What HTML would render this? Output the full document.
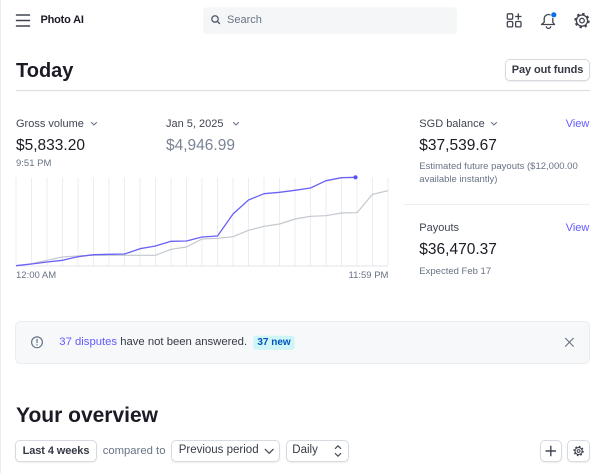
<!DOCTYPE html>
<html><head><meta charset="utf-8">
<style>
*{margin:0;padding:0;box-sizing:border-box}
html,body{width:600px;height:473px;background:#fff;overflow:hidden;font-family:"Liberation Sans",sans-serif;color:#414552}
.t{position:absolute;white-space:nowrap}
.btn{position:absolute;border:1px solid #d5dbe1;border-radius:5px;background:#fff;box-shadow:0 1px 1.5px rgba(0,0,0,0.07)}
</style></head><body>
<svg width="600" height="473" style="position:absolute;left:0;top:0" xmlns="http://www.w3.org/2000/svg">
  <line x1="0.5" y1="0" x2="0.5" y2="473" stroke="#ececec" stroke-width="1"/>
  <!-- hamburger -->
  <g stroke="#414552" stroke-width="1.5" stroke-linecap="round">
    <line x1="16.5" y1="15" x2="29.5" y2="15"/><line x1="16.5" y1="20.5" x2="29.5" y2="20.5"/><line x1="16.5" y1="26" x2="29.5" y2="26"/>
  </g>
  <!-- search box -->
  <rect x="203" y="7.3" width="254" height="26.7" rx="4" fill="#f5f6f8"/>
  <circle cx="215" cy="19" r="3.2" fill="none" stroke="#525a6b" stroke-width="1.3"/>
  <line x1="217.4" y1="21.4" x2="219.5" y2="23.5" stroke="#525a6b" stroke-width="1.4" stroke-linecap="round"/>
  <!-- grid icon -->
  <g fill="none" stroke="#414552" stroke-width="1.3">
    <rect x="507.3" y="13.8" width="5.4" height="5.4" rx="1.2"/>
    <rect x="507.3" y="21.5" width="5.4" height="5.4" rx="1.2"/>
    <rect x="515.6" y="21.5" width="5.4" height="5.4" rx="1.2"/>
    <line x1="518.3" y1="13.3" x2="518.3" y2="19.7"/><line x1="515.1" y1="16.5" x2="521.5" y2="16.5"/>
  </g>
  <!-- bell -->
  <g fill="none" stroke="#414552" stroke-width="1.3" stroke-linejoin="round">
    <path d="M541.5 24.5 H554.5 L552.8 22.2 V18.8 A4.3 4.3 0 0 0 544.2 18.8 V22.2 Z"/>
    <path d="M546.3 26.2 A2.2 2.2 0 0 0 550.7 26.2"/>
  </g>
  <circle cx="553.8" cy="14.8" r="3.4" fill="#fff"/>
  <circle cx="553.8" cy="14.8" r="2.6" fill="#0a6ee6"/>
  <!-- gear -->
  <g fill="none" stroke="#414552">
    <circle cx="582" cy="20.6" r="5.6" stroke-width="1.3"/>
    <circle cx="582" cy="20.6" r="6.6" stroke-width="2.2" stroke-dasharray="2.4 2.78"/>
    <circle cx="582" cy="20.6" r="2.3" stroke-width="1.3"/>
  </g>
  <!-- divider under Today -->
  <line x1="16" y1="90.5" x2="590" y2="90.5" stroke="#dde1e6" stroke-width="1.2"/>
  <!-- chevrons -->
  <g fill="none" stroke="#687385" stroke-width="1.1" stroke-linecap="round" stroke-linejoin="round">
    <polyline points="91.5,122.5 94,125 96.5,122.5"/>
    <polyline points="233.5,122.5 236,125 238.5,122.5"/>
    <polyline points="491.5,122.5 494,125 496.5,122.5"/>
  </g>
  <!-- chart grid -->
  <g stroke="#ebeef1" stroke-width="1">
    <line x1="16" y1="177.7" x2="16" y2="265.7"/><line x1="31.5" y1="177.7" x2="31.5" y2="265.7"/><line x1="47" y1="177.7" x2="47" y2="265.7"/><line x1="62.5" y1="177.7" x2="62.5" y2="265.7"/><line x1="78" y1="177.7" x2="78" y2="265.7"/><line x1="93.5" y1="177.7" x2="93.5" y2="265.7"/><line x1="109" y1="177.7" x2="109" y2="265.7"/><line x1="124.5" y1="177.7" x2="124.5" y2="265.7"/><line x1="140" y1="177.7" x2="140" y2="265.7"/><line x1="155.5" y1="177.7" x2="155.5" y2="265.7"/><line x1="171" y1="177.7" x2="171" y2="265.7"/><line x1="186.5" y1="177.7" x2="186.5" y2="265.7"/><line x1="202" y1="177.7" x2="202" y2="265.7"/><line x1="217.5" y1="177.7" x2="217.5" y2="265.7"/><line x1="233" y1="177.7" x2="233" y2="265.7"/><line x1="248.5" y1="177.7" x2="248.5" y2="265.7"/><line x1="264" y1="177.7" x2="264" y2="265.7"/><line x1="279.5" y1="177.7" x2="279.5" y2="265.7"/><line x1="295" y1="177.7" x2="295" y2="265.7"/><line x1="310.5" y1="177.7" x2="310.5" y2="265.7"/><line x1="326" y1="177.7" x2="326" y2="265.7"/><line x1="341.5" y1="177.7" x2="341.5" y2="265.7"/><line x1="357" y1="177.7" x2="357" y2="265.7"/><line x1="372.5" y1="177.7" x2="372.5" y2="265.7"/><line x1="388" y1="177.7" x2="388" y2="265.7"/>
  </g>
  <line x1="16" y1="266" x2="388" y2="266" stroke="#e3e6ea" stroke-width="1"/>
  <polyline fill="none" stroke="#c3c8cf" stroke-width="1.2" stroke-linejoin="round" points="16,265.7 31.5,263.7 47,260.3 62.5,257 78,256 93.5,255.3 109,255.3 124.5,255.3 140,255.3 155.5,255.3 171,249.3 186.5,247 202,239 217.5,238.3 233,236.7 248.5,230.3 264,226.3 279.5,224 295,219 310.5,216.3 326,215.7 341.5,213 357,212.7 372.5,194.3 388,190.7"/>
  <polyline fill="none" stroke="#6a61f6" stroke-width="1.3" stroke-linejoin="round" points="16,265.7 31.5,264 47,262 62.5,260.3 78,256.7 93.5,254.7 109,254.3 124.5,254 140,248.7 155.5,246 171,241.3 186.5,241 202,237 217.5,236 233,214 248.5,200 264,193.7 279.5,192.3 295,190.3 310.5,188 326,180.7 341.5,177.7 357,177.3"/>
  <circle cx="355.5" cy="177.3" r="2.1" fill="#5a50f5"/>
  <!-- right panel divider -->
  <line x1="403.5" y1="204.5" x2="589.5" y2="204.5" stroke="#ebeef1" stroke-width="1"/>
  <!-- alert -->
  <rect x="15.5" y="321.5" width="574" height="42" rx="5" fill="#f6f8fa" stroke="#ebeef1"/>
  <circle cx="37" cy="342.3" r="5.4" fill="none" stroke="#687385" stroke-width="1.2"/>
  <line x1="37" y1="339.3" x2="37" y2="342.6" stroke="#687385" stroke-width="1.2" stroke-linecap="round"/>
  <circle cx="37" cy="344.9" r="0.7" fill="#687385"/>
  <rect x="253.3" y="335.7" width="41.4" height="14" rx="3" fill="#cff5f6"/>
  <g stroke="#687385" stroke-width="1.1" stroke-linecap="round">
    <line x1="565.5" y1="338.3" x2="573.3" y2="346.3"/><line x1="573.3" y1="338.3" x2="565.5" y2="346.3"/>
  </g>
</svg>

<div class="t" style="left:40.5px;top:15px;font-size:11px;line-height:11px;font-weight:bold;color:#1a1b25;letter-spacing:-0.2px">Photo AI</div>
<div class="t" style="left:227px;top:15px;font-size:11px;line-height:11px;color:#687385">Search</div>

<div class="t" style="left:16px;top:60.8px;font-size:20px;line-height:20px;font-weight:bold;color:#1a1b25">Today</div>
<div class="btn" style="left:505px;top:59px;width:85px;height:22px"></div>
<div class="t" style="left:505px;top:64.5px;width:85px;text-align:center;font-size:11px;line-height:11px;font-weight:bold;color:#353a44;letter-spacing:-0.1px">Pay out funds</div>

<div class="t" style="left:16px;top:118.5px;font-size:11px;line-height:11px">Gross volume</div>
<div class="t" style="left:166px;top:118.5px;font-size:11px;line-height:11px">Jan 5, 2025</div>
<div class="t" style="left:16px;top:137.8px;font-size:15.5px;line-height:15.5px;color:#1a1b25">$5,833.20</div>
<div class="t" style="left:166px;top:137.8px;font-size:15.5px;line-height:15.5px;color:#7a8394">$4,946.99</div>
<div class="t" style="left:16px;top:158.5px;font-size:9.5px;line-height:9.5px;color:#687385">9:51 PM</div>
<div class="t" style="left:16px;top:271.2px;font-size:9.5px;line-height:9.5px;color:#687385">12:00 AM</div>
<div class="t" style="left:348.5px;top:271.2px;font-size:9.5px;line-height:9.5px;color:#687385">11:59 PM</div>

<div class="t" style="left:419.3px;top:118.5px;font-size:11px;line-height:11px">SGD balance</div>
<div class="t" style="left:565.7px;top:118.5px;font-size:11px;line-height:11px;color:#635bff">View</div>
<div class="t" style="left:419.3px;top:137.8px;font-size:15.5px;line-height:15.5px;color:#1a1b25">$37,539.67</div>
<div class="t" style="left:419.3px;top:162px;font-size:9.5px;line-height:9.5px;color:#687385">Estimated future payouts ($12,000.00</div>
<div class="t" style="left:419.3px;top:175.3px;font-size:9.5px;line-height:9.5px;color:#687385">available instantly)</div>
<div class="t" style="left:419.3px;top:222.8px;font-size:11px;line-height:11px">Payouts</div>
<div class="t" style="left:565.7px;top:222.8px;font-size:11px;line-height:11px;color:#635bff">View</div>
<div class="t" style="left:419.3px;top:242.3px;font-size:15.5px;line-height:15.5px;color:#1a1b25">$36,470.37</div>
<div class="t" style="left:419.3px;top:267px;font-size:9.5px;line-height:9.5px;color:#687385">Expected Feb 17</div>

<div class="t" style="left:59.3px;top:336.6px;font-size:11.3px;line-height:11.3px;color:#353a44"><span style="color:#635bff">37 disputes</span> have not been answered.</div>
<div class="t" style="left:253.3px;top:337.5px;width:41.4px;text-align:center;font-size:10px;line-height:10px;font-weight:bold;color:#0055bc">37 new</div>

<div class="t" style="left:16px;top:404.5px;font-size:21px;line-height:21px;font-weight:bold;color:#1a1b25">Your overview</div>

<div class="btn" style="left:15px;top:440px;width:82px;height:22px"></div>
<div class="t" style="left:15px;top:445.5px;width:82px;text-align:center;font-size:11px;line-height:11px;font-weight:bold;color:#353a44;letter-spacing:-0.1px">Last 4 weeks</div>
<div class="t" style="left:102.7px;top:445.5px;font-size:11.3px;line-height:11.3px;color:#687385">compared to</div>
<div class="btn" style="left:171.3px;top:440px;width:109px;height:22px"></div>
<div class="t" style="left:178.7px;top:445.3px;font-size:11.5px;line-height:11.5px;color:#353a44">Previous period</div>
<div class="btn" style="left:285.7px;top:440px;width:63.5px;height:22px"></div>
<div class="t" style="left:292.3px;top:445.3px;font-size:11.5px;line-height:11.5px;color:#353a44">Daily</div>
<div class="btn" style="left:540px;top:440px;width:21.7px;height:22px"></div>
<div class="btn" style="left:567.3px;top:440px;width:22.7px;height:22px"></div>
<svg width="600" height="473" style="position:absolute;left:0;top:0">
  <g fill="none" stroke="#414552" stroke-width="1.2" stroke-linecap="round" stroke-linejoin="round">
    <polyline points="265.2,449.3 269.2,453.3 273.2,449.3"/>
    <polyline points="335.3,448.5 338,445.8 340.7,448.5"/>
    <polyline points="335.3,453.5 338,456.2 340.7,453.5"/>
    <line x1="550.8" y1="446.3" x2="550.8" y2="455.7" stroke-width="1.4"/>
    <line x1="546.1" y1="451" x2="555.5" y2="451" stroke-width="1.4"/>
  </g>
  <g fill="none" stroke="#414552">
    <circle cx="578.6" cy="451" r="3.6" stroke-width="1.1"/>
    <circle cx="578.6" cy="451" r="4.4" stroke-width="1.6" stroke-dasharray="1.6 1.86"/>
    <circle cx="578.6" cy="451" r="1.4" stroke-width="1"/>
  </g>
</svg>
</body></html>
